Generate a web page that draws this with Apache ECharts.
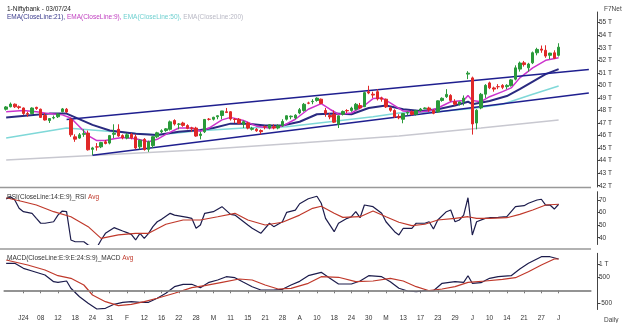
<!DOCTYPE html>
<html><head><meta charset="utf-8">
<script src="https://cdn.jsdelivr.net/npm/echarts@6/dist/echarts.min.js"></script>
<style>html,body{margin:0;padding:0;background:#fff}#c{width:624px;height:323px}</style>
</head><body><div id="c"></div>
<script>
// Trading sessions, 27 Dec 2023 .. 3 Jul 2024
const sessions = {
  '2023-12': [27,28,29],
  '2024-01': [1,2,3,4,5,8,9,10,11,12,15,16,17,18,19,20,23,24,25,29,30,31],
  '2024-02': [1,2,5,6,7,8,9,12,13,14,15,16,19,20,21,22,23,26,27,28,29],
  '2024-03': [1,2,4,5,6,7,11,12,13,14,15,18,19,20,21,22,26,27,28],
  '2024-04': [1,2,3,4,5,8,9,10,12,15,16,18,19,22,23,24,25,26,29,30],
  '2024-05': [2,3,6,7,8,9,10,13,14,15,16,17,18,21,22,23,24,27,28,29,30,31],
  '2024-06': [3,4,5,6,7,10,11,12,13,14,18,19,20,21,24,25,26,27,28],
  '2024-07': [1,2,3]
};
const xTickLabels = ['J24','08','12','18','24','31','F','12','16','22','28','M','11','15','21','28','A','10','18','24','30','M','13','17','23','29','J','10','14','21','27','J'];

// Niftybank daily OHLC
const opens = [48100,48300,48500,48300,48200,47760,47750,48250,48100,47600,47200,47400,47500,47900,48100,47300,45900,45800,46100,46200,44900,45100,45100,45500,45400,46100,46500,46000,45800,46100,45900,45100,45700,44900,45200,45900,46300,46400,46500,47200,46900,47000,46800,46600,46600,46000,46300,47300,47300,47500,47600,47900,47900,47300,47300,46900,47000,46500,46500,46400,46700,46600,46700,46600,46800,47300,47500,47400,47800,48000,48600,48700,48800,48900,48000,47600,47700,46900,47700,48000,48000,48100,48400,48300,49500,49300,49500,49000,48900,48200,48000,47500,47300,47800,47900,47700,48000,48150,48200,48000,47900,48800,49100,49200,48700,48500,48700,50900,50600,47000,48200,49300,50200,49800,49900,50000,49900,50000,50500,51300,51800,51400,51800,52600,52900,52800,52400,52600,52400];
const highs = [48350,48636,48560,48400,48240,47900,48250,48300,48150,47800,47400,47600,47800,48200,48200,47400,46100,46200,46500,46400,45100,45400,45500,45650,46050,46900,46900,46100,46200,46200,46100,45700,45800,45600,45950,46300,46500,46600,47200,47300,47000,47100,46900,46700,46700,46300,47300,47400,47500,47600,47900,48200,47950,47400,47400,47200,47100,46700,46600,46500,46800,46900,46900,46900,47300,47600,47600,47700,48200,48600,48700,48900,49050,48950,48200,47800,48000,47600,48000,48100,48300,48600,48600,49500,49970,49500,49700,49100,48950,48300,48100,47700,47800,47900,48000,48050,48200,48250,48300,48100,48800,49050,49700,49300,48900,48700,49200,51133,50700,48100,49400,50100,50300,49900,50100,50100,50100,50500,51600,51900,51950,51800,52700,53000,53180,53200,52600,52800,53360];
const lows = [48000,48250,48200,48100,47650,47500,47700,48050,47400,47200,47000,47300,47400,47850,47800,45900,45500,45750,45900,44800,44450,44800,45000,45300,45300,45800,45900,45700,45700,45700,44900,44900,44800,44700,45000,45800,46200,46300,46400,46800,46500,46700,46500,46300,45900,45700,46200,47200,47200,47300,47300,47800,47200,47000,46900,46600,46500,46400,46300,46100,46500,46500,46500,46500,46700,47200,47300,47300,47700,47900,48500,48500,48700,48500,47500,47300,47000,46600,47600,47800,47900,48000,48100,48300,49300,49000,48800,48700,48200,47900,47400,47300,46980,47600,47600,47600,47900,48100,47900,47700,47800,48700,49000,48700,48400,48400,48400,50500,46077,46500,48100,49000,49700,49500,49700,49700,49700,49900,50400,51100,51500,51100,51700,52400,52600,52200,52100,52100,52300];
const closes = [48282,48508,48292,48234,47761,47704,48195,48159,47450,47242,47360,47438,47710,48125,47882,46064,45714,46058,46150,44866,45015,45082,45442,45367,45996,46188,45971,45825,46061,45818,45012,45634,44882,45502,45908,46219,46385,46535,47094,46919,46920,46812,46576,46588,45963,46121,47286,47297,47456,47581,47965,47835,47327,47282,46982,47110,46594,46576,46384,46310,46684,46863,46600,46785,47124,47578,47545,47624,48060,48493,48581,48730,48986,48565,47773,47484,47069,47574,47924,47970,48189,48494,48201,49424,49396,49231,48923,48895,48285,48021,47487,47421,47754,47859,47688,47977,48115,48199,48048,47782,48768,48971,49281,48806,48501,48682,48984,50979,46928,48021,49291,50003,49803,49705,49895,49847,50002,50440,51398,51783,51661,51703,52606,52870,52811,52342,52574,52168,53049.7];
const lastCloseLabel = '53049.7';

// Moving averages, [session index, value]
const ema9 = [[0,47900],[4,48000],[7,47900],[10,47750],[13,47650],[15,47400],[17,46700],[19,46000],[21,45600],[23,45600],[25,45750],[27,45850],[30,45750],[33,45500],[35,45700],[37,46100],[40,46600],[43,46600],[45,46350],[47,46600],[50,47250],[52,47450],[55,47200],[58,46750],[61,46600],[64,46750],[67,47300],[70,48100],[73,48550],[75,48100],[77,47700],[80,47800],[83,48400],[85,48950],[87,49000],[89,48600],[92,47950],[95,47850],[98,47950],[100,48200],[103,48700],[106,48800],[107,49200],[108,48800],[110,48700],[112,49100],[115,49500],[117,49800],[119,50600],[122,51400],[125,52000],[128,52200]];
const ema21 = [[0,47450],[5,47600],[10,47750],[14,47750],[16,47450],[20,46850],[24,46400],[30,46150],[35,46050],[40,46300],[45,46450],[48,46600],[52,46950],[56,46950],[60,46800],[64,46800],[68,47100],[72,47700],[76,47750],[80,47700],[84,48200],[88,48400],[92,48100],[96,47950],[100,48100],[104,48400],[107,48700],[108,48500],[112,48750],[116,49150],[119,49700],[122,50300],[125,50900],[128,51300]];
const ema50 = [[0,45800],[14,46600],[25,46300],[35,46050],[44,46360],[55,46600],[65,46700],[75,47100],[85,47500],[91,47800],[100,47900],[106,48100],[108,48150],[115,48500],[122,49300],[128,49950]];
const ema200 = [[0,44050],[44,44850],[68,45400],[91,45960],[110,46600],[128,47240]];

// Channel lines, [session index, value]
const channelUpper = [[14,47272],[135,51261]];
const channelLower = [[20,44437],[135,49386]];

// RSI(14) and its 9-period average
const rsi = [[0,70.8],[1,72.6],[2,70],[3,63.4],[4,60.7],[6,59.4],[7,55.4],[8,51.5],[9,51.5],[11,52.7],[12,58],[13,61.2],[14,60.7],[15,38.2],[16,36.8],[18,36.8],[19,34.2],[20,32.9],[21,32.1],[22,38.2],[23,43.5],[25,48],[27,45.3],[28,44],[29,42.7],[30,38.2],[31,43.5],[32,39.5],[33,43.5],[34,48.8],[35,52.7],[36,54.6],[38,59.4],[39,58],[42,56.2],[43,55.4],[44,47.5],[45,50.1],[46,59.4],[48,60.7],[50,64.7],[52,58.6],[53,58],[56,50.1],[57,47.5],[59,43.5],[61,51.5],[62,48.8],[64,52.7],[65,60.2],[67,62],[68,67],[70,71],[72,73],[73,67.4],[74,55.4],[76,44.8],[77,51.5],[79,55.4],[80,56.7],[81,60.7],[82,55.9],[83,66],[85,64.7],[87,59.4],[88,52.7],[90,44.8],[91,42.2],[92,47.5],[94,47.5],[95,51.5],[97,51.5],[98,52.7],[99,46.9],[100,54.1],[102,60.7],[103,62],[104,52.7],[105,54.1],[106,58],[107,71.8],[108,42.2],[109,52.7],[111,55.4],[112,55.9],[114,56.2],[116,56.7],[117,60.7],[118,64.7],[120,65.5],[121,67.4],[123,70],[124,70.6],[125,66],[126,66],[127,62.8],[128,66.6]];
const rsiAvg = [[0,71.8],[4,68.6],[7,66],[11,60.7],[15,56.7],[19,48.8],[22,39.5],[26,42.2],[30,43.5],[33,43.5],[37,50.7],[41,54.1],[45,54.1],[49,56.7],[53,59.4],[56,54.1],[60,50.1],[64,52.3],[68,58],[71,63.4],[73,65],[76,59.4],[78,56.2],[82,56.7],[85,61.2],[88,56.7],[91,52.3],[94,49.6],[97,50.7],[100,54.1],[104,55.4],[107,56.7],[109,55.4],[112,55.4],[116,55.9],[119,58.6],[122,62],[125,66],[128,66.6]];

// MACD(9,24) and its 9-period signal
const macd = [[0,1055],[2,1055],[4,859],[6,754],[9,598],[11,336],[12,312],[14,363],[15,78],[17,-250],[19,-508],[21,-730],[23,-703],[25,-547],[27,-469],[29,-445],[31,-469],[33,-469],[35,-312],[37,-117],[39,141],[41,234],[43,234],[45,102],[47,312],[49,402],[51,531],[53,492],[55,312],[57,141],[59,12],[62,12],[64,39],[66,207],[68,350],[70,570],[73,703],[75,469],[77,246],[80,246],[82,363],[84,570],[87,531],[89,336],[91,78],[93,-27],[95,-55],[97,-16],[99,-16],[101,273],[104,336],[106,312],[107,570],[108,273],[110,297],[112,469],[114,531],[117,570],[119,832],[121,1055],[124,1312],[126,1312],[128,1223]];
const macdSignal = [[0,1183],[5,988],[9,793],[12,570],[15,469],[18,207],[20,-184],[23,-445],[26,-601],[29,-547],[32,-445],[35,-312],[39,-117],[43,102],[46,180],[50,312],[54,441],[57,402],[60,207],[63,51],[66,78],[70,273],[73,531],[77,508],[81,336],[85,363],[89,469],[92,363],[95,141],[98,-16],[101,51],[104,141],[107,312],[111,363],[115,430],[118,492],[121,727],[124,988],[127,1223],[128,1223]];

// category axis: sessions plus blank room on the right for the channel lines
const categories = [];
Object.keys(sessions).forEach(m => sessions[m].forEach(d => categories.push(m + '-' + String(d).padStart(2, '0'))));
const lastSession = categories.length - 1;
for (let k = 1; k <= 7; k++) categories.push('pad' + k);

const ohlc = closes.map((c, i) => [opens[i], c, lows[i], highs[i]]);

const FONT = 'Liberation Sans';
const TXT = '#333';
const isTick = i => i >= 4 && i <= lastSession && (i - 4) % 4 === 0;

const gridLeft = 4, gridWidth = 587;
const grids = [
  { left: gridLeft, width: gridWidth, top: 12, height: 175 },
  { left: gridLeft, width: gridWidth, top: 191.7, height: 52.8 },
  { left: gridLeft, width: gridWidth, top: 253.3, height: 56.2 }
];

function xAx(gi, showLabels) {
  return {
    type: 'category', gridIndex: gi, data: categories, boundaryGap: true,
    axisLine: { show: showLabels, lineStyle: { color: '#999', width: 1.5 } },
    axisTick: { show: showLabels, interval: i => isTick(i), alignWithLabel: true, length: 3, lineStyle: { color: '#777' } },
    axisLabel: { show: showLabels, interval: i => isTick(i), formatter: (v, i) => xTickLabels[(i - 4) / 4] || '', fontSize: 6.5, color: TXT, fontFamily: FONT, margin: 5 },
    splitLine: { show: false }
  };
}
function yAx(gi, min, max, ticks, fmt) {
  return {
    type: 'value', gridIndex: gi, position: 'right', offset: 6, min, max, scale: true,
    axisLine: { show: true, lineStyle: { color: '#444', width: 1 } },
    axisTick: { show: true, length: 3, customValues: ticks, lineStyle: { color: '#444' } },
    axisLabel: { show: true, customValues: ticks, formatter: fmt, fontSize: 6.5, color: TXT, fontFamily: FONT, margin: 2 },
    splitLine: { show: false }
  };
}

const priceTicks = [];
for (let v = 42000; v <= 55000; v += 1000) priceTicks.push(v);

const lineS = (name, data, color, width, xi, yi, z) => ({
  name, type: 'line', data, xAxisIndex: xi, yAxisIndex: yi, symbol: 'none', connectNulls: true,
  lineStyle: { color, width }, z: z || 2, silent: true, animation: false
});

const chart = echarts.init(document.getElementById('c'), null, { renderer: 'canvas' });
chart.setOption({
  animation: false,
  backgroundColor: '#fff',
  title: [
    { text: '1-Niftybank - 03/07/24', left: 2, top: 1, textStyle: { fontSize: 6.5, fontWeight: 'normal', color: '#222', fontFamily: FONT } },
    { text: '{a|EMA(CloseLine:21),} {b|EMA(CloseLine:9),} {c|EMA(CloseLine:50),} {d|EMA(CloseLine:200)}', left: 2, top: 9,
      textStyle: { fontSize: 6.5, fontWeight: 'normal', fontFamily: FONT,
        rich: { a: { color: '#3a3a8c', fontSize: 6.5, fontFamily: FONT }, b: { color: '#c040c0', fontSize: 6.5, fontFamily: FONT }, c: { color: '#6fd0d0', fontSize: 6.5, fontFamily: FONT }, d: { color: '#b8b8c4', fontSize: 6.5, fontFamily: FONT } } } },
    { text: 'F7Net', left: 599, top: 1, textStyle: { fontSize: 6.5, fontWeight: 'normal', color: '#444', fontFamily: FONT } },
    { text: '{a|RSI(CloseLine:14:E:9)_RSI} {b|Avg}', left: 2, top: 189,
      textStyle: { fontSize: 6.5, fontWeight: 'normal', fontFamily: FONT, rich: { a: { color: '#333', fontSize: 6.5, fontFamily: FONT }, b: { color: '#c0392b', fontSize: 6.5, fontFamily: FONT } } } },
    { text: '{a|MACD(CloseLine:E:9:E:24:S:9)_MACD} {b|Avg}', left: 2, top: 250,
      textStyle: { fontSize: 6.5, fontWeight: 'normal', fontFamily: FONT, rich: { a: { color: '#333', fontSize: 6.5, fontFamily: FONT }, b: { color: '#c0392b', fontSize: 6.5, fontFamily: FONT } } } },
    { text: 'Daily', left: 599, top: 312, textStyle: { fontSize: 6.5, fontWeight: 'normal', color: '#444', fontFamily: FONT } }
  ],
  grid: grids,
  xAxis: [xAx(0, false), xAx(1, false), xAx(2, true)],
  yAxis: [
    yAx(0, 41899, 55853, priceTicks, v => (v / 1000) + ' T'),
    yAx(1, 34.6, 76.6, [40, 50, 60, 70], v => String(v)),
    yAx(2, -750, 1445, [-500, 500, 1000], v => (v === 1000 ? '1 T' : String(v)))
  ],
  graphic: [
    { type: 'line', shape: { x1: 0, y1: 187.5, x2: 591, y2: 187.5 }, style: { stroke: '#999', lineWidth: 1.5 }, silent: true },
    { type: 'line', shape: { x1: 0, y1: 249, x2: 591, y2: 249 }, style: { stroke: '#999', lineWidth: 1.5 }, silent: true }
  ],
  series: [
    lineS('EMA(CloseLine:200)', ema200, '#c8c8d0', 1.5, 0, 0),
    lineS('EMA(CloseLine:50)', ema50, '#7fd8d8', 1.5, 0, 0),
    lineS('EMA(CloseLine:21)', ema21, '#2a2a80', 2, 0, 0),
    lineS('EMA(CloseLine:9)', ema9, '#cc33cc', 1.5, 0, 0),
    {
      name: 'Niftybank', type: 'candlestick', data: ohlc, xAxisIndex: 0, yAxisIndex: 0, barWidth: 3, z: 5,
      itemStyle: { color: '#2a9a3a', color0: '#e02828', borderColor: '#2a9a3a', borderColor0: '#e02828', borderWidth: 1 },
      markLine: {
        silent: true, symbol: 'none', animation: false,
        data: [
          [{ coord: channelUpper[0] }, { coord: channelUpper[1] }],
          [{ coord: channelLower[0] }, { coord: channelLower[1] }]
        ],
        lineStyle: { color: '#1f1f8f', width: 1.5, type: 'solid' },
        label: { show: false }
      }
    },
    {
      name: 'last', type: 'line', data: [], xAxisIndex: 0, yAxisIndex: 0, z: 10,
      markLine: {
        silent: true, symbol: 'none', animation: false,
        data: [{ yAxis: closes[lastSession] }],
        lineStyle: { opacity: 0 },
        label: { show: true, position: 'end', distance: 6, formatter: lastCloseLabel, backgroundColor: '#111', color: '#fff', fontSize: 6.5, fontFamily: FONT, padding: [2, 2, 1, 2] }
      }
    },
    lineS('RSI', rsi, '#1c1c4c', 1.2, 1, 1),
    lineS('Avg', rsiAvg, '#c0392b', 1.2, 1, 1),
    Object.assign(lineS('MACD', macd, '#1c1c4c', 1.2, 2, 2), {
      markLine: { silent: true, symbol: 'none', animation: false, data: [{ yAxis: 0 }], lineStyle: { color: '#888', width: 1.5, type: 'solid' }, label: { show: false } }
    }),
    lineS('MACD Avg', macdSignal, '#c0392b', 1.2, 2, 2)
  ]
});
</script>
</body></html>
